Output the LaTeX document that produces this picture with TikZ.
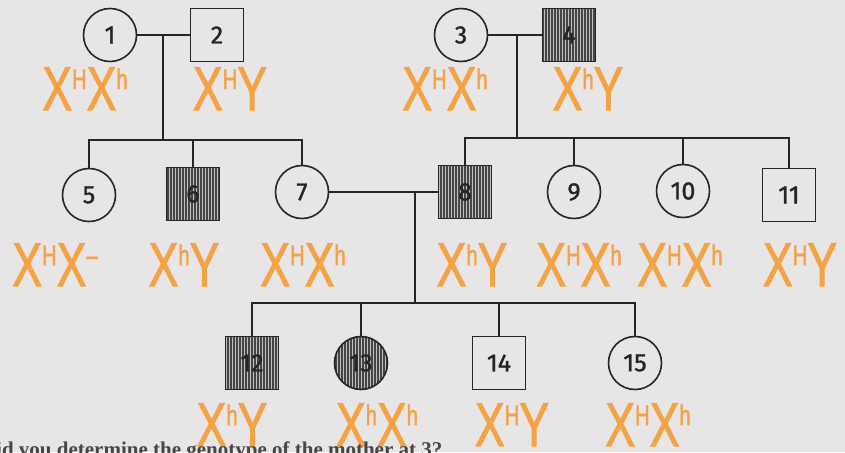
\documentclass[tikz,border=0pt]{standalone}
\usepackage{fontspec}
\setmainfont{Liberation Serif}
\newfontfamily\numfont{Fira Sans}[FakeBold=1.2]
\newfontfamily\handfont{Liberation Sans}[FakeBold=1.8]
\usetikzlibrary{patterns.meta}
\definecolor{paper}{RGB}{231,229,230}
\definecolor{marker}{RGB}{243,162,70}
\definecolor{ink}{RGB}{38,36,38}
\newcommand\allele[1]{\raisebox{21pt}{\fontsize{28}{28}\selectfont #1}}
\newcommand\genotype[1]{\scalebox{0.72}[1]{\fontsize{62}{62}\selectfont #1}}

\begin{document}
\begin{tikzpicture}[x=1pt,y=-1pt,
  person/.style={draw=ink,line width=1.6pt,inner sep=0pt,minimum size=53pt,
    font=\numfont\fontsize{25}{25}\selectfont,text=ink},
  female/.style={person,circle},
  male/.style={person,rectangle},
  affected/.style={preaction={fill=gray!50},
    pattern={Lines[angle=90,distance=3pt,line width=1.1pt]},pattern color=ink!85},
  geno/.style={anchor=base,text=marker,font=\handfont,inner sep=0pt},
  link/.style={draw=ink,line width=1.4pt}]
  \fill[paper] (0,0) rectangle (845,452);
  \useasboundingbox (0,0) rectangle (845,452);
  \clip (0,0) rectangle (845,452);

  % generation I
  \node[female] (p1) at (110,35) {1};
  \node[male] (p2) at (217,35) {2};
  \node[female] (p3) at (461,35) {3};
  \node[male,affected] (p4) at (569,35) {4};

  % generation II
  \node[female] (p5) at (89,195) {5};
  \node[male,affected] (p6) at (193,194) {6};
  \node[female] (p7) at (302,192) {7};
  \node[male,affected] (p8) at (465,192) {8};
  \node[female] (p9) at (574,192) {9};
  \node[female] (p10) at (683,191) {10};
  \node[male] (p11) at (789,195) {11};

  % generation III
  \node[male,affected] (p12) at (252,363) {12};
  \node[female,affected] (p13) at (361,363) {13};
  \node[male] (p14) at (499,363) {14};
  \node[female] (p15) at (635,363) {15};

  \coordinate (c12) at (163,35);
  \coordinate (s1) at (163,140);
  \coordinate (c34) at (517,35);
  \coordinate (s2) at (517,138);
  \coordinate (c78) at (415,192);
  \coordinate (s3) at (415,303);

  \draw[link] (p1) -- (p2);
  \draw[link] (c12) -- (s1);
  \draw[link] (p5.north) |- (s1) -| (p7.north);
  \draw[link] (p6.north) -- (p6.north |- s1);

  \draw[link] (p3) -- (p4);
  \draw[link] (c34) -- (s2);
  \draw[link] (p8.north) |- (s2) -| (p11.north);
  \draw[link] (p9.north) -- (p9.north |- s2);
  \draw[link] (p10.north) -- (p10.north |- s2);

  \draw[link] (p7) -- (p8);
  \draw[link] (c78) -- (s3);
  \draw[link] (p12.north) |- (s3) -| (p15.north);
  \draw[link] (p13.north) -- (p13.north |- s3);
  \draw[link] (p14.north) -- (p14.north |- s3);

  % genotypes
  \node[geno] (g1) at (85,110) {\genotype{X\allele{H}X\allele{h}}};
  \node[geno] (g2) at (230,110) {\genotype{X\allele{H}Y}};
  \node[geno] (g3) at (445,110) {\genotype{X\allele{H}X\allele{h}}};
  \node[geno] (g4) at (588,110) {\genotype{X\allele{h}Y}};
  \node[geno] (g5) at (55,286) {\genotype{X\allele{H}X\allele{\textendash}}};
  \node[geno] (g6) at (184,286) {\genotype{X\allele{h}Y}};
  \node[geno] (g7) at (303,286) {\genotype{X\allele{H}X\allele{h}}};
  \node[geno] (g8) at (472,286) {\genotype{X\allele{h}Y}};
  \node[geno] (g9) at (579,286) {\genotype{X\allele{H}X\allele{h}}};
  \node[geno] (g10) at (680,286) {\genotype{X\allele{H}X\allele{h}}};
  \node[geno] (g11) at (800,286) {\genotype{X\allele{H}Y}};
  \node[geno] (g12) at (232,446) {\genotype{X\allele{h}Y}};
  \node[geno] (g13) at (377,446) {\genotype{X\allele{h}X\allele{h}}};
  \node[geno] (g14) at (512,446) {\genotype{X\allele{H}Y}};
  \node[geno] (g15) at (648,446) {\genotype{X\allele{H}X\allele{h}}};

  \node[anchor=base west,inner sep=0pt,text=ink!85,
    font=\bfseries\fontsize{21}{21}\selectfont] (question) at (-4,456)
    {id you determine the genotype of the mother at 3?};
\end{tikzpicture}
\end{document}
